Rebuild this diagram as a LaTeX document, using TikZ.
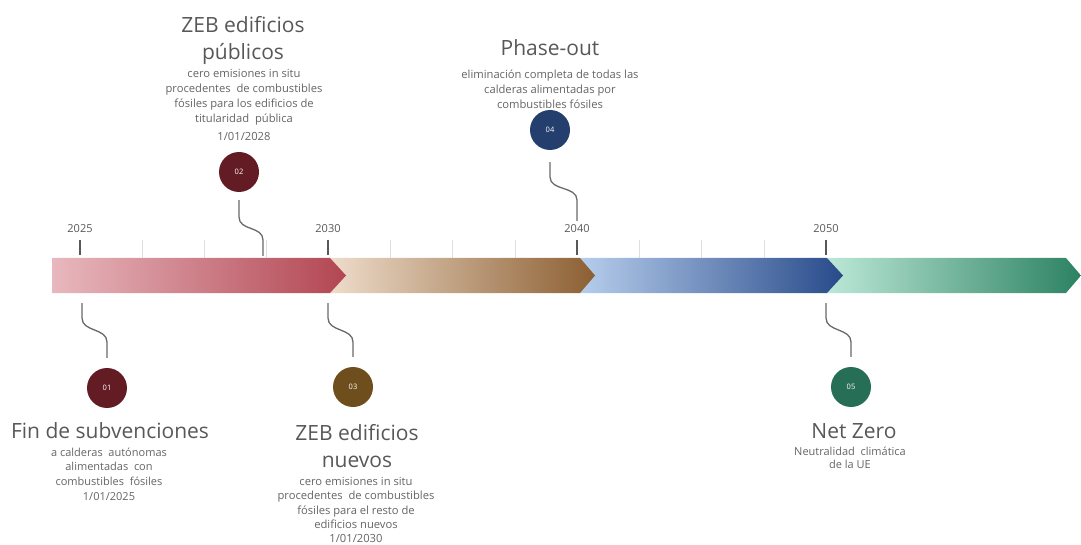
\documentclass[tikz,border=0pt]{standalone}
\usepackage{fontspec}
\setmainfont{Open Sans}
\definecolor{txt}{RGB}{88,88,88}
\definecolor{stxt}{RGB}{100,100,100}
\definecolor{conncol}{RGB}{105,105,105}
\definecolor{minor}{RGB}{222,222,222}
\definecolor{aL}{RGB}{232,184,190}
\definecolor{aR}{RGB}{178,70,82}
\definecolor{bL}{RGB}{238,220,202}
\definecolor{bR}{RGB}{140,95,50}
\definecolor{cL}{RGB}{182,206,236}
\definecolor{cR}{RGB}{40,74,138}
\definecolor{dL}{RGB}{188,232,216}
\definecolor{dR}{RGB}{44,130,98}
\definecolor{k1}{RGB}{100,28,36}
\definecolor{k3}{RGB}{110,78,28}
\definecolor{k4}{RGB}{36,62,110}
\definecolor{k5}{RGB}{38,110,85}
\begin{document}
\begin{tikzpicture}[x=1pt,y=-1pt,
  title/.style={align=center,text=txt,inner sep=0pt,font=\fontsize{21}{27}\selectfont},
  desc/.style={align=center,text=stxt,inner sep=0pt,font=\fontsize{11.2}{15}\selectfont},
  year/.style={text=txt,inner sep=0pt,font=\fontsize{11}{11}\selectfont},
  badge/.style={circle,minimum size=40pt,inner sep=0pt,text=white,font=\fontsize{7.5}{7.5}\selectfont},
  conn/.style={draw=conncol,line width=1.3pt},
  major/.style={draw=txt,line width=1.8pt},
  minortick/.style={draw=minor,line width=0.7pt}]
\useasboundingbox (0,0) rectangle (1081,545);
% bar segments
\shade[left color=dL,right color=dR] (827,258) -- (1066,258) -- (1081,275.5) -- (1066,293) -- (827,293) -- cycle;
\shade[left color=cL,right color=cR] (580,258) -- (827,258) -- (843,275.5) -- (827,293) -- (580,293) -- cycle;
\shade[left color=bL,right color=bR] (330,258) -- (580,258) -- (595,275.5) -- (580,293) -- (330,293) -- cycle;
\shade[left color=aL,right color=aR] (52,258) -- (330,258) -- (346,275.5) -- (330,293) -- (52,293) -- cycle;
% ticks
\foreach \x in {142,204,266,390,452,515,639,701,764}
  \draw[minortick] (\x,240) -- (\x,258);
\foreach \x in {80,328,577,826}
  \draw[major] (\x,240) -- (\x,255);
\node[year] (y25) at (80,229) {2025};
\node[year] (y30) at (328,229) {2030};
\node[year] (y40) at (577,229) {2040};
\node[year] (y50) at (826,229) {2050};
% badges
\node[badge,fill=k1] (c01) at (107,388) {01};
\node[badge,fill=k1] (c02) at (239,172) {02};
\node[badge,fill=k3] (c03) at (353,387) {03};
\node[badge,fill=k4] (c04) at (550,130) {04};
\node[badge,fill=k5] (c05) at (851,387) {05};
% connector end points
\coordinate (e02) at (263,256);
\coordinate (e04) at (577,221);
\coordinate (s01) at (82,303);
\coordinate (s03) at (328,303);
\coordinate (s05) at (826,303);
\draw[conn,shorten <=8pt] (c02.south) -- (239,217) .. controls (239,231) and (263,226) .. (263,240) -- (e02);
\draw[conn,shorten <=12pt] (c04.south) -- (550,177) .. controls (550,191) and (577,186) .. (577,200) -- (e04);
\draw[conn,shorten >=10pt] (s01) -- (82,318) .. controls (82,332) and (107,328) .. (107,342) -- (c01.north);
\draw[conn,shorten >=10pt] (s03) -- (328,318) .. controls (328,332) and (353,328) .. (353,342) -- (c03.north);
\draw[conn,shorten >=10pt] (s05) -- (826,318) .. controls (826,332) and (851,328) .. (851,342) -- (c05.north);
% texts
\node[title] (t02) at (243,40) {ZEB edificios\\públicos};
\node[desc] (d02) at (244,105) {cero emisiones in situ\\procedentes\ \ de combustibles\\fósiles para los edificios de\\titularidad\ \ pública\\[3pt]1/01/2028};
\node[title] (t04) at (550,48) {Phase-out};
\node[desc] (d04) at (550,89) {eliminación completa de todas las\\calderas alimentadas por\\combustibles fósiles};
\node[title] (t01) at (110,431) {Fin de subvenciones};
\node[desc,font=\fontsize{11}{14.7}\selectfont] (d01) at (109,474) {a calderas\ \ autónomas\\alimentadas\ \ con\\combustibles\ \ fósiles\\1/01/2025};
\node[title] (t03) at (357,446) {ZEB edificios\\nuevos};
\node[desc,font=\fontsize{11.2}{14.2}\selectfont] (d03) at (356,510) {cero emisiones in situ\\procedentes\ \ de combustibles\\fósiles para el resto de\\edificios nuevos\\1/01/2030};
\node[title] (t05) at (854,431) {Net Zero};
\node[desc,font=\fontsize{11}{12.5}\selectfont] (d05) at (850,458) {Neutralidad\ \ climática\\de la UE};
\end{tikzpicture}
\end{document}
